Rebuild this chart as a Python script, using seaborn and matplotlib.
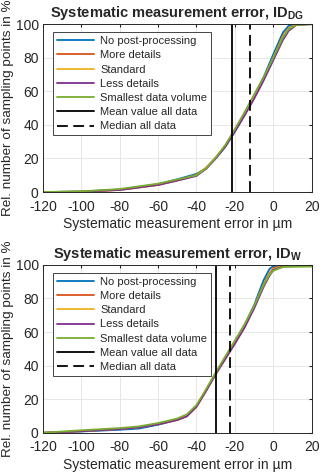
import matplotlib
matplotlib.use("Agg")
import matplotlib.pyplot as plt
import matplotlib.lines as mlines
import seaborn as sns
import pandas as pd

# series names and MATLAB default colours
series_names = ["No post-processing", "More details", "Standard",
                "Less details", "Smallest data volume"]
series_colors = ["#0072BD", "#D95319", "#EDB120", "#7E2F8E", "#77AC30"]

# ---- ID_DG (top panel) ----
x_dg = [-120, -100, -80, -60, -50, -40, -35, -30, -25, -20, -15, -10, -5, 0, 5, 8, 12, 20]
dg_none     = [0, 0.3, 1.5, 4.6, 7.6, 10.8, 14.0, 20.0, 27.0, 36.0, 46.0, 57.0, 68.5, 82.0, 95.0, 99.0, 100, 100]
dg_more     = [0, 0.2, 1.3, 4.3, 7.0, 10.2, 14.5, 20.5, 27.5, 36.5, 46.0, 56.5, 67.5, 80.0, 93.0, 97.5, 99.8, 100]
dg_standard = [0, 0.2, 1.3, 4.2, 6.9, 10.0, 14.3, 20.3, 27.5, 36.5, 46.0, 56.5, 67.5, 80.0, 92.5, 97.3, 99.8, 100]
dg_less     = [0, 0.2, 1.2, 4.2, 6.8, 9.6, 13.8, 20.0, 27.0, 36.0, 45.5, 55.5, 66.5, 78.5, 90.5, 96.0, 99.5, 100]
dg_small    = [0, 0.4, 1.8, 5.0, 7.5, 10.0, 14.0, 20.5, 28.0, 37.5, 47.5, 58.0, 68.5, 80.0, 92.0, 97.0, 99.5, 100]
dg_mean = -21.7
dg_median = -12.2

# ---- ID_W (bottom panel) ----
x_w = [-120, -100, -80, -70, -60, -50, -45, -40, -35, -30, -25, -20, -15, -10, -5, -2, 0, 5, 20]
w_none     = [0, 0.8, 1.8, 2.5, 4.8, 7.8, 10.5, 16.0, 25.0, 35.0, 44.5, 54.0, 64.0, 76.0, 91.0, 97.5, 99.3, 99.5, 99.5]
w_more     = [0, 1.0, 2.3, 3.3, 5.2, 7.8, 10.0, 15.5, 25.0, 35.0, 44.0, 53.5, 63.5, 75.0, 88.5, 95.0, 98.0, 99.3, 99.5]
w_standard = [0, 1.0, 2.3, 3.3, 5.2, 7.6, 9.8, 15.5, 25.0, 35.0, 44.0, 53.5, 63.5, 75.0, 88.0, 94.5, 97.5, 99.2, 99.5]
w_less     = [0, 0.9, 2.2, 3.2, 5.0, 7.6, 9.8, 15.5, 25.0, 35.0, 44.0, 53.0, 62.5, 74.0, 87.0, 93.5, 97.0, 99.0, 99.5]
w_small    = [0, 1.5, 2.8, 3.8, 5.8, 8.5, 11.0, 16.5, 26.0, 36.0, 45.5, 55.0, 64.5, 75.5, 88.0, 94.0, 96.5, 98.8, 99.0]
w_mean = -29.6
w_median = -22.3

x_ticks = [-120, -100, -80, -60, -40, -20, 0, 20]
y_ticks = [0, 20, 40, 60, 80, 100]


def to_long(x, curves):
    rows = []
    for name, ys in zip(series_names, curves):
        for xv, yv in zip(x, ys):
            rows.append({"x": xv, "y": yv, "series": name})
    return pd.DataFrame(rows)


sns.set_style("whitegrid")
plt.rcParams["font.family"] = ["Liberation Sans", "DejaVu Sans"]
plt.rcParams["mathtext.fontset"] = "custom"
plt.rcParams["mathtext.bf"] = "Liberation Sans:bold"
plt.rcParams["mathtext.rm"] = "Liberation Sans"
plt.rcParams["axes.unicode_minus"] = False

fig = plt.figure(figsize=(3.2, 4.73), dpi=100)
ax_top = fig.add_axes([0.134, 0.594, 0.840, 0.355])
ax_bot = fig.add_axes([0.134, 0.085, 0.840, 0.355])

panels = [
    (ax_top, to_long(x_dg, [dg_none, dg_more, dg_standard, dg_less, dg_small]),
     dg_mean, dg_median, r"Systematic measurement error, ID$_{\mathbf{DG}}$"),
    (ax_bot, to_long(x_w, [w_none, w_more, w_standard, w_less, w_small]),
     w_mean, w_median, r"Systematic measurement error, ID$_{\mathbf{W}}$"),
]

for ax, df, mean_v, median_v, title in panels:
    sns.lineplot(data=df, x="x", y="y", hue="series", hue_order=series_names,
                 palette=series_colors, linewidth=1.3, ax=ax, legend=False)
    ax.axvline(mean_v, color="black", linewidth=1.3)
    ax.axvline(median_v, color="black", linewidth=1.3, linestyle=(0, (6, 3)))

    ax.set_xlim(-120, 20)
    ax.set_ylim(0, 100)
    ax.set_xticks(x_ticks)
    ax.set_yticks(y_ticks)
    ax.tick_params(labelsize=10, colors="#262626", direction="in", length=2,
                   top=True, right=True)
    ax.tick_params(axis="x", pad=5.5)
    ax.tick_params(axis="y", pad=3)
    ax.grid(True, color="#e3e3e3", linewidth=0.6)
    for sp in ax.spines.values():
        sp.set_color("#262626")
        sp.set_linewidth(0.7)
    ax.set_xlabel("Systematic measurement error in µm", fontsize=10,
                  color="#262626", labelpad=2.5)
    ax.set_ylabel("Rel. number of sampling points in %", fontsize=9.7,
                  color="#262626", labelpad=1)
    ax.set_title(title, fontsize=10.5, fontweight="bold", pad=5)

    handles = [mlines.Line2D([], [], color=c, linewidth=1.3, label=n)
               for n, c in zip(series_names, series_colors)]
    handles.append(mlines.Line2D([], [], color="black", linewidth=1.3,
                                 label="Mean value all data"))
    handles.append(mlines.Line2D([], [], color="black", linewidth=1.3,
                                 linestyle=(0, (6, 3)), label="Median all data"))
    leg = ax.legend(handles=handles, loc="upper left", bbox_to_anchor=(0.037, 0.952),
                    borderaxespad=0, fontsize=8, handlelength=3.4, handletextpad=0.5,
                    labelspacing=0.38, borderpad=0.35, fancybox=False,
                    framealpha=1, edgecolor="#262626")
    leg.get_frame().set_linewidth(0.6)

fig.savefig("out.png", dpi=100)
